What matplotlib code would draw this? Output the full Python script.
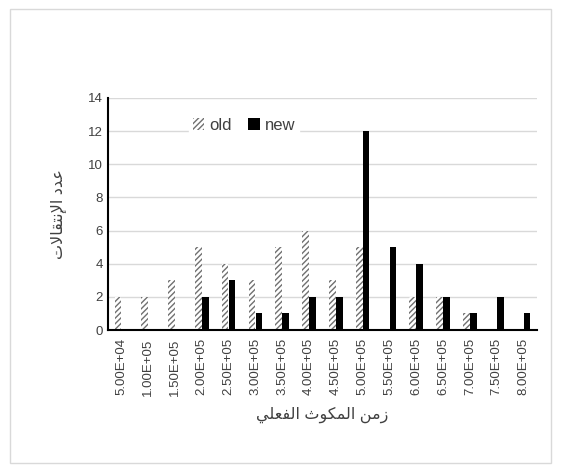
import matplotlib.pyplot as plt
from matplotlib.patches import Rectangle
import numpy as np

# Data
CATEGORIES = ['5.00E+04', '1.00E+05', '1.50E+05', '2.00E+05', '2.50E+05', '3.00E+05',
              '3.50E+05', '4.00E+05', '4.50E+05', '5.00E+05', '5.50E+05', '6.00E+05',
              '6.50E+05', '7.00E+05', '7.50E+05', '8.00E+05']
OLD = [2, 2, 3, 5, 4, 3, 5, 6, 3, 5, 0, 2, 2, 1, 0, 0]
NEW = [0, 0, 0, 2, 3, 1, 1, 2, 2, 12, 5, 4, 2, 1, 2, 1]
Y_TICKS = [0, 2, 4, 6, 8, 10, 12, 14]

# Arabic labels, shaped by hand (presentation forms, visual order)
X_LABEL = '\uFEF2\uFEE0\uFECC\uFED4\uFEDF\uFE8D \uFE99\uFEEE\uFEDC\uFEE4\uFEDF\uFE8D \uFEE6\uFEE3\uFEAF'  # زمن المكوث الفعلي
Y_LABEL = '\uFE95\uFEFB\uFE8E\uFED8\uFE98\uFEE7\uFEF9\uFE8D \uFEA9\uFEAA\uFECB'  # عدد الإنتقالات

plt.rcParams['font.family'] = ['Liberation Sans', 'DejaVu Sans']
plt.rcParams['hatch.linewidth'] = 1.0

fig = plt.figure(figsize=(5.61, 4.72), dpi=100)
fig.patches.append(Rectangle((0.018, 0.02), 0.964, 0.96, transform=fig.transFigure,
                             fill=False, edgecolor='#d9d9d9', linewidth=1))
ax = fig.add_axes([0.1925, 0.3008, 0.7645, 0.4916])

x = np.arange(len(CATEGORIES))
w = 0.25
ax.bar(x - 0.13, OLD, width=w, color='white', edgecolor='#707070', hatch='//////',
       linewidth=0, label='old', zorder=3)
ax.bar(x + 0.13, NEW, width=w, color='black', linewidth=0, label='new', zorder=3)

ax.set_xlim(-0.5, len(CATEGORIES) - 0.5)
ax.set_ylim(0, 14)
ax.set_yticks(Y_TICKS)
ax.tick_params(axis='y', length=0, labelsize=9.5, colors='#404040')
ax.set_xticks(x)
ax.set_xticklabels(CATEGORIES, rotation=90, fontsize=9.5, color='#404040')
ax.tick_params(axis='x', length=0, pad=6)
ax.grid(axis='y', color='#d9d9d9', linewidth=1, zorder=0)
for s in ['top', 'right']:
    ax.spines[s].set_visible(False)
for s in ['left', 'bottom']:
    ax.spines[s].set_color('black')
    ax.spines[s].set_linewidth(1.5)
    ax.spines[s].set_zorder(4)

ax.set_xlabel(X_LABEL, fontsize=11.5, color='#404040', labelpad=8)
ax.set_ylabel(Y_LABEL, fontsize=11.5, color='#404040', labelpad=16)

leg = ax.legend(loc='upper left', bbox_to_anchor=(0.17, 0.965), ncol=2, frameon=True,
                fontsize=12, handlelength=0.7, handleheight=0.7, handletextpad=0.3,
                columnspacing=1.0, borderpad=0.2)
leg.get_frame().set_edgecolor('white')
leg.get_frame().set_facecolor('white')
leg.get_frame().set_alpha(1)
for t in leg.get_texts():
    t.set_color('#404040')

fig.savefig('out.png', dpi=100)
